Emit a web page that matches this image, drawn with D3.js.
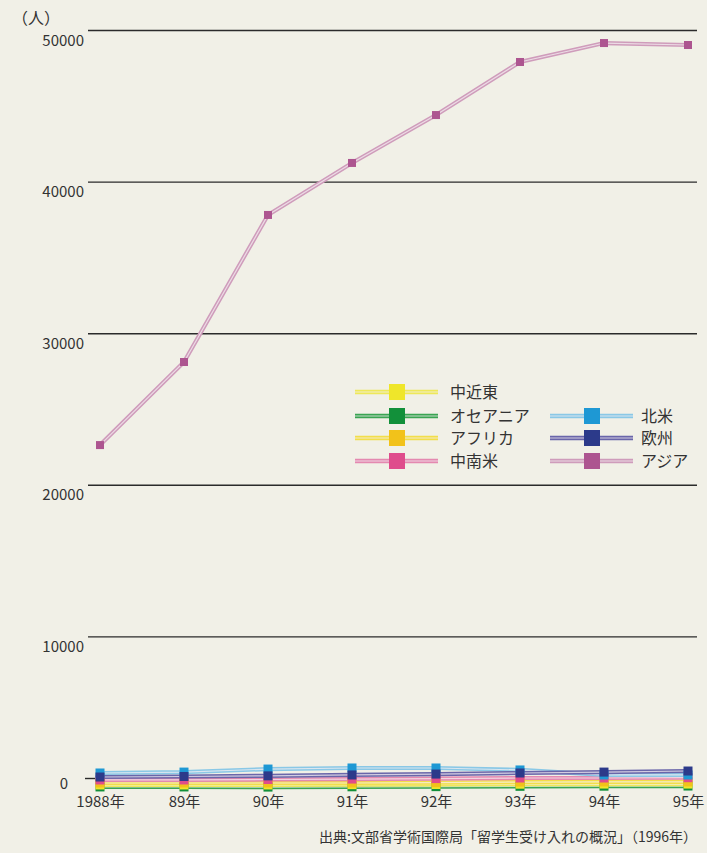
<!DOCTYPE html>
<html><head><meta charset="utf-8">
<script src="https://cdn.jsdelivr.net/npm/d3@7"></script>
<style>
html,body{margin:0;padding:0;background:#f1f0e7;}
svg{display:block;}
text{font-family:"Noto Sans CJK JP","Noto Sans",sans-serif;fill:#333;}
</style></head>
<body>
<svg id="c" width="707" height="853"></svg>
<script>
const years = ["1988年","89年","90年","91年","92年","93年","94年","95年"];
const yTicks = [0,10000,20000,30000,40000,50000];
const seriesNames = ["中近東","オセアニア","アフリカ","中南米","北米","欧州","アジア"];
const middleEast = [200,200,200,220,230,250,260,260];
const oceania   = [70,70,60,80,90,110,120,130];
const africa    = [330,330,330,330,350,390,400,400];
const latinAm   = [530,530,560,590,620,660,660,680];
const northAm   = [990,1050,1250,1320,1320,1190,860,860];
const europe    = [725,760,800,860,920,990,1050,1120];
const asia      = [22620,28100,37800,41230,44390,47890,49140,49010];
const markerColors = ["#efe62a","#12903a","#f2c21a","#df4c8c","#1e98d4","#2c3a8a","#ad5590"];
const lineColors   = ["#eee85a","#3aa452","#f2de4a","#e489b0","#8ac8e6","#6a66aa","#cf9cbb"];
const values = [middleEast,oceania,africa,latinAm,northAm,europe,asia];

const svg = d3.select("#c");
const x = d3.scalePoint().domain(years).range([100,688]);
const y = d3.scaleLinear().domain([0,50000]).range([788,30]);

const yAxis = d3.axisLeft(y).tickValues(yTicks).tickSize(-609).tickFormat(d3.format("d"));
const ga = svg.append("g").attr("transform","translate(88,0)").call(yAxis);
ga.select(".domain").remove();
ga.selectAll(".tick line").attr("stroke","#2b2b2b").attr("stroke-width",1.4);
ga.selectAll(".tick").filter(d=>d===0).select("line").attr("x1",-3).attr("x2",7).attr("transform","translate(0,-10)");
ga.selectAll(".tick text").attr("x",-4).attr("dy",15).attr("font-size",15).attr("fill","#333")
  .style("font-family",'"Noto Sans CJK JP",sans-serif');
ga.selectAll(".tick").filter(d=>d===0).select("text").attr("x",-20).attr("dy",0);

svg.append("text").attr("x",12).attr("y",24).attr("font-size",16).text("（人）");

const xAxis = d3.axisBottom(x).tickSize(0).tickPadding(0);
const gx = svg.append("g").attr("transform","translate(0,800)").call(xAxis);
gx.select(".domain").remove();
gx.selectAll(".tick text").attr("font-size",15).attr("fill","#333").attr("dy","0.45em")
  .style("font-family",'"Noto Sans CJK JP",sans-serif');

const line = d3.line().x((d,i)=>x(years[i])).y(d=>y(d));
const order = [1,0,2,3,6,4,5];
order.forEach(k=>{
  const g = svg.append("g");
  g.append("path").attr("d",line(values[k])).attr("fill","none").attr("stroke",lineColors[k]).attr("stroke-width",4.2);
  g.append("path").attr("d",line(values[k])).attr("fill","none").attr("stroke","#f6f0f3").attr("stroke-opacity",0.75).attr("stroke-width",1.2);
});
order.forEach(k=>{
  const sz = k===6 ? 8 : 9;
  svg.append("g").selectAll("rect").data(values[k]).join("rect")
    .attr("x",(d,i)=>x(years[i])-sz/2).attr("y",d=>y(d)-sz/2)
    .attr("width",sz).attr("height",sz).attr("fill",markerColors[k]);
});

const legendPos = [
  [355,392],[355,416],[355,438],[355,461],
  [550,416],[550,438],[550,461]
];
seriesNames.forEach((n,k)=>{
  const [lx,ly] = legendPos[k];
  const g = svg.append("g");
  g.append("line").attr("x1",lx).attr("x2",lx+83).attr("y1",ly).attr("y2",ly).attr("stroke",lineColors[k]).attr("stroke-width",4.5);
  g.append("line").attr("x1",lx).attr("x2",lx+83).attr("y1",ly).attr("y2",ly).attr("stroke","#f6f0f3").attr("stroke-opacity",0.75).attr("stroke-width",1.2);
  g.append("rect").attr("x",lx+34).attr("y",ly-8).attr("width",16).attr("height",16).attr("fill",markerColors[k]);
  g.append("text").attr("x",lx + (k<4 ? 95 : 91)).attr("y",ly+6).attr("font-size",16).text(n);
});

svg.append("text").attr("x",697).attr("y",842).attr("text-anchor","end").attr("font-size",14)
  .text("出典:文部省学術国際局「留学生受け入れの概況」（1996年）");
</script>
</body></html>
